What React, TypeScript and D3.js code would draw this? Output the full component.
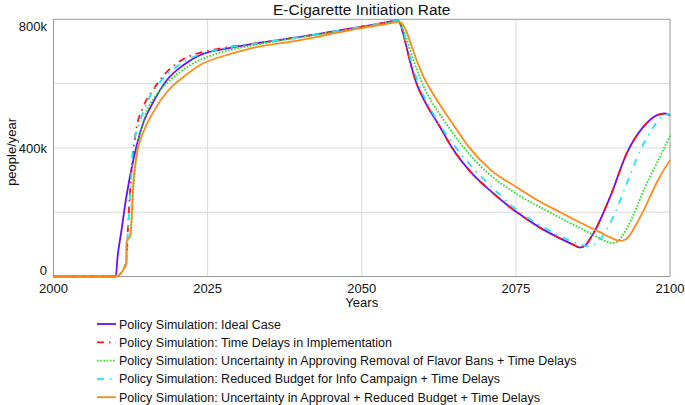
import React from "react";
import * as d3 from "d3";

const xTicks = [2000, 2025, 2050, 2075, 2100];
const yTickLabels = [
  { v: 0, label: "0" },
  { v: 400, label: "400k" },
  { v: 800, label: "800k" },
];
const yGrid = [200, 400, 600];

// [year, thousands of people/year]
const idealCase: [number, number][] = [
  [2000, 0], [2010.1, 0], [2010.4, 62], [2011, 140], [2011.8, 246], [2013, 367], [2014.6, 480],
  [2016.2, 543], [2018.4, 611], [2021.1, 658], [2023.8, 689], [2028.1, 709], [2031.9, 722],
  [2040, 745], [2050, 777], [2055, 794], [2055.7, 797], [2056.2, 788], [2056.8, 750],
  [2057.5, 695], [2058.8, 605], [2060, 553], [2062.7, 465], [2064.6, 402], [2068.1, 316],
  [2070.8, 268], [2073.5, 224], [2075, 202], [2078.9, 152], [2081.6, 124], [2084.3, 99],
  [2085.4, 90], [2086.2, 96], [2087.6, 135], [2090.3, 248], [2093, 384], [2095.7, 466],
  [2097.9, 502], [2099.2, 507], [2100, 502],
];

const timeDelays: [number, number][] = [
  [2000, 0], [2010.1, 0], [2011.8, 41], [2012.1, 160], [2012.7, 340], [2013.4, 455],
  [2014.5, 525], [2016.2, 582], [2018, 628], [2020, 663], [2022, 685], [2024, 697],
  [2028.1, 713], [2031.9, 723], [2040, 745], [2050, 777], [2055, 794], [2055.7, 797],
  [2056.2, 788], [2056.8, 750], [2057.5, 695], [2058.8, 605], [2060, 553], [2062.7, 465],
  [2064.6, 402], [2068.1, 316], [2070.8, 268], [2073.5, 224], [2075, 202], [2078.9, 152],
  [2081.6, 124], [2084.3, 99], [2085.4, 90], [2086.2, 96], [2087.6, 135], [2090.3, 248],
  [2093, 384], [2095.7, 466], [2097.9, 502], [2099.2, 507], [2100, 502],
];

const flavorBans: [number, number][] = [
  [2000, 0], [2010.1, 0], [2011.8, 41], [2011.85, 100], [2012.5, 135], [2012.9, 260],
  [2013.5, 380], [2014.9, 502], [2016.5, 560], [2018.6, 605], [2022.2, 658], [2026, 690],
  [2030, 710], [2035, 728], [2042, 750], [2050, 774], [2055, 793], [2055.6, 796],
  [2056.3, 786], [2057, 755], [2058, 695], [2059.5, 615], [2061, 555], [2063, 495],
  [2066.6, 400], [2070, 330], [2075, 258], [2080.5, 200], [2083, 174], [2085.9, 146],
  [2088.1, 124], [2089.5, 110], [2090.5, 104], [2091.3, 107], [2093, 150], [2094.6, 215],
  [2096, 280], [2097.8, 350], [2100, 438],
];

const reducedBudget: [number, number][] = [
  [2000, 0], [2010.1, 0], [2011.8, 41], [2012.1, 150], [2012.4, 230], [2012.9, 400],
  [2014, 480], [2015.5, 555], [2017.5, 610], [2020.5, 660], [2024, 693], [2028.1, 711],
  [2031.9, 722], [2040, 745], [2050, 777], [2055, 794], [2055.7, 797], [2056.3, 785],
  [2057, 745], [2058, 672], [2059.1, 605], [2061, 527], [2063, 462], [2065.3, 400],
  [2068, 338], [2070.8, 284], [2075, 209], [2080, 148], [2083.5, 114], [2086, 97], [2087, 93],
  [2087.8, 100], [2090.3, 166], [2093, 290], [2095.2, 393], [2096.8, 450], [2098.4, 492],
  [2099.5, 505], [2100, 505],
];

const combined: [number, number][] = [
  [2000, 0], [2010.1, 0], [2011.8, 41], [2011.85, 108], [2012.5, 129], [2012.96, 295],
  [2013.5, 378], [2014.6, 450], [2016.2, 512], [2018.4, 574], [2021.1, 621], [2023.8, 658],
  [2028.1, 689], [2031.9, 709], [2040, 735], [2049.7, 772], [2055, 789], [2055.9, 792],
  [2056.5, 788], [2057.2, 765], [2058, 722], [2059, 668], [2060, 622], [2061.2, 580],
  [2063, 525], [2065, 468], [2067.5, 400], [2071, 330], [2075, 279], [2078.5, 237],
  [2082.2, 200], [2085.5, 167], [2088.6, 138], [2090.5, 120], [2091.9, 111], [2092.8, 115],
  [2094.6, 165], [2095.7, 205], [2097.8, 290], [2098.4, 312], [2100, 362],
];

const seriesNames = [
  "Policy Simulation: Ideal Case",
  "Policy Simulation: Time Delays in Implementation",
  "Policy Simulation: Uncertainty in Approving Removal of Flavor Bans + Time Delays",
  "Policy Simulation: Reduced Budget for Info Campaign + Time Delays",
  "Policy Simulation: Uncertainty in Approval + Reduced Budget + Time Delays",
];
const seriesData = [idealCase, timeDelays, flavorBans, reducedBudget, combined];
const seriesColors = ["#6a0dff", "#ff1414", "#1ee01e", "#1ee6f5", "#ff8a14"];
const seriesDash = ["", "7,5,1.5,5", "1.6,1.6", "7,6,1.5,6", ""];

export default function App() {
  const left = 53.5, right = 670, top = 19.3, bottom = 276.5;
  const x = d3.scaleLinear().domain([2000, 2100]).range([left, right]);
  const y = d3.scaleLinear().domain([0, 800]).range([bottom, top]);
  const line = d3
    .line<[number, number]>()
    .x((d) => x(d[0]))
    .y((d) => y(d[1]))
    .curve(d3.curveMonotoneX);
  const font = "Arial, 'Liberation Sans', sans-serif";
  const legendY0 = 324;
  const legendStep = 18.3;

  return (
    <svg
      width={685}
      height={405}
      style={{ position: "absolute", left: 0, top: 0, background: "#fff" }}
      fontFamily={font}
    >
      <rect x={0} y={0} width={685} height={405} fill="#fff" />
      <text x={(left + right) / 2} y={15} textAnchor="middle" fontSize={15.5} fill="#111">
        E-Cigarette Initiation Rate
      </text>
      {yGrid.map((v) => (
        <line key={"gy" + v} x1={left} x2={right} y1={y(v)} y2={y(v)} stroke="#d8d8d8" strokeWidth={1} />
      ))}
      {xTicks.slice(1, -1).map((t) => (
        <line key={"gx" + t} x1={x(t)} x2={x(t)} y1={top} y2={bottom} stroke="#d8d8d8" strokeWidth={1} />
      ))}
      <rect x={left} y={top} width={right - left} height={bottom - top} fill="none" stroke="#9a9a9a" strokeWidth={1} />
      {seriesData.map((d, i) => (
        <path
          key={"s" + i}
          d={line(d) || ""}
          fill="none"
          stroke={seriesColors[i]}
          strokeWidth={1.8}
          strokeDasharray={seriesDash[i] || undefined}
        />
      ))}
      {yTickLabels.map((t, i) => {
        const yy = y(t.v);
        const dy = i === 0 ? -2 : i === yTickLabels.length - 1 ? 12 : 5;
        return (
          <text key={"yl" + t.v} x={47} y={yy + dy} textAnchor="end" fontSize={13} fill="#111">
            {t.label}
          </text>
        );
      })}
      {xTicks.map((t) => (
        <text key={"xl" + t} x={x(t)} y={293} textAnchor="middle" fontSize={13} fill="#111">
          {t}
        </text>
      ))}
      <text x={(left + right) / 2} y={307} textAnchor="middle" fontSize={13} fill="#111">
        Years
      </text>
      <text
        transform={`translate(16,${(top + bottom) / 2 + 4}) rotate(-90)`}
        textAnchor="middle"
        fontSize={13}
        fill="#111"
      >
        people/year
      </text>
      {seriesNames.map((n, i) => {
        const ly = legendY0 + i * legendStep;
        return (
          <g key={"lg" + i}>
            <line
              x1={97}
              x2={116}
              y1={ly}
              y2={ly}
              stroke={seriesColors[i]}
              strokeWidth={1.8}
              strokeDasharray={seriesDash[i] || undefined}
            />
            <text x={119} y={ly + 4.5} fontSize={12.5} fill="#111">
              {n}
            </text>
          </g>
        );
      })}
    </svg>
  );
}
